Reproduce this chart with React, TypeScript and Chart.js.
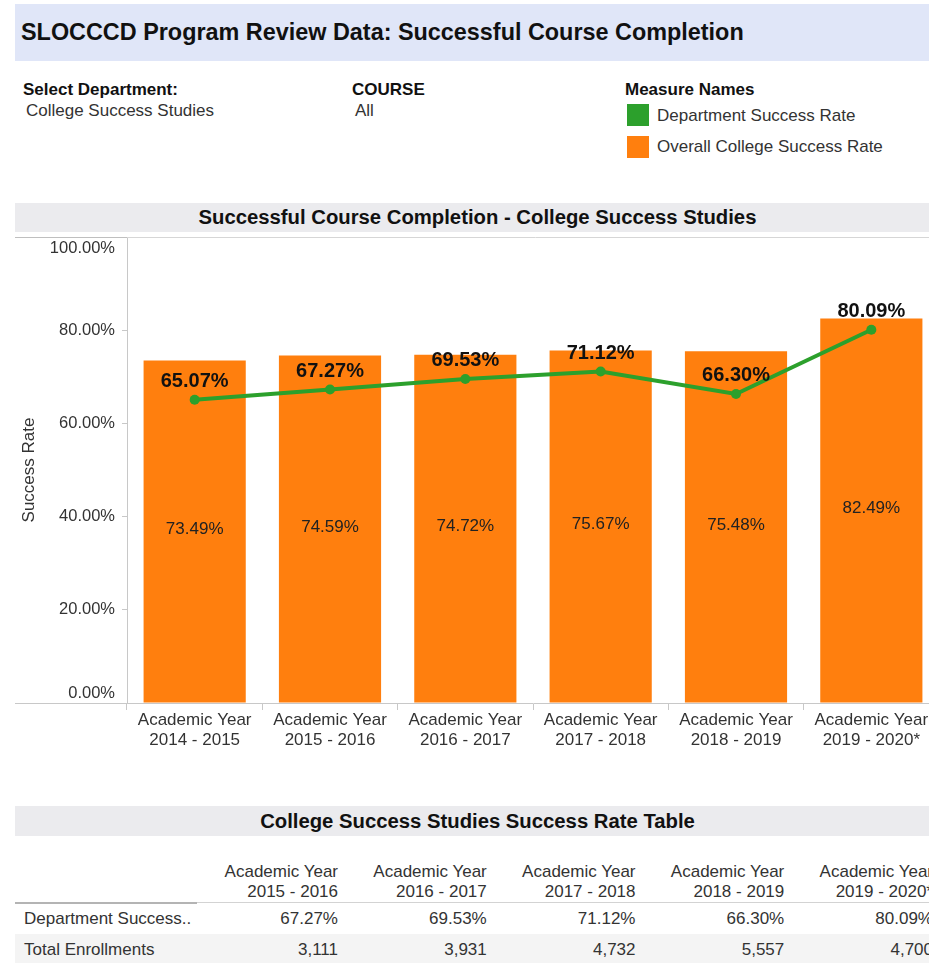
import React, { useEffect, useRef } from "react";
import { Chart, registerables } from "chart.js";

Chart.register(...registerables);

// ---------- data ----------
const categories: string[][] = [
  ["Academic Year", "2014 - 2015"],
  ["Academic Year", "2015 - 2016"],
  ["Academic Year", "2016 - 2017"],
  ["Academic Year", "2017 - 2018"],
  ["Academic Year", "2018 - 2019"],
  ["Academic Year", "2019 - 2020*"],
];
const departmentRate = [65.07, 67.27, 69.53, 71.12, 66.3, 80.09];
const collegeRate = [73.49, 74.59, 74.72, 75.67, 75.48, 82.49];
const yTickValues = [0, 20, 40, 60, 80, 100];

const tableYears: string[][] = [
  ["Academic Year", "2015 - 2016"],
  ["Academic Year", "2016 - 2017"],
  ["Academic Year", "2017 - 2018"],
  ["Academic Year", "2018 - 2019"],
  ["Academic Year", "2019 - 2020*"],
];
const tableDeptRate = [67.27, 69.53, 71.12, 66.3, 80.09];
const tableEnrollments = [3111, 3931, 4732, 5557, 4700];

const DEPT_COLOR = "#2ca02c";
const COLLEGE_COLOR = "#ff7f0e";
const FONT = '"Liberation Sans", Arial, Helvetica, sans-serif';

const pct = (v: number) => v.toFixed(2) + "%";

const overlayPlugin = {
  id: "overlay",
  beforeDatasetsDraw(chart: any) {
    const { ctx, chartArea } = chart;
    ctx.save();
    ctx.lineWidth = 1;
    // top frame line
    ctx.strokeStyle = "#bfbfbf";
    ctx.beginPath();
    ctx.moveTo(0, chartArea.top + 0.5);
    ctx.lineTo(chartArea.left, chartArea.top + 0.5);
    ctx.stroke();
    ctx.strokeStyle = "#d6d6d6";
    ctx.beginPath();
    ctx.moveTo(chartArea.left, chartArea.top + 0.5);
    ctx.lineTo(chart.width, chartArea.top + 0.5);
    ctx.stroke();
    // baseline extension under the y-axis labels
    ctx.strokeStyle = "#c8c8c8";
    ctx.beginPath();
    ctx.moveTo(0, chartArea.bottom + 0.5);
    ctx.lineTo(chartArea.left, chartArea.bottom + 0.5);
    ctx.stroke();
    ctx.restore();
  },
  afterDatasetsDraw(chart: any) {
    const { ctx } = chart;
    ctx.save();
    ctx.textAlign = "center";
    ctx.textBaseline = "middle";
    // bar labels (middle of bars)
    const barMeta = chart.getDatasetMeta(1);
    ctx.font = `17px ${FONT}`;
    ctx.fillStyle = "#222";
    barMeta.data.forEach((el: any, i: number) => {
      const y = (el.y + el.base) / 2 - 2;
      ctx.fillText(pct(collegeRate[i]), el.x, y);
    });
    // line labels (above points)
    const lineMeta = chart.getDatasetMeta(0);
    ctx.font = `bold 20px ${FONT}`;
    ctx.fillStyle = "#111";
    lineMeta.data.forEach((el: any, i: number) => {
      ctx.fillText(pct(departmentRate[i]), el.x, el.y - 18.5);
    });
    ctx.restore();
  },
  afterDraw(chart: any) {
    const { ctx, chartArea } = chart;
    const y = chart.scales.y;
    ctx.save();
    ctx.font = `16.5px ${FONT}`;
    ctx.fillStyle = "#333";
    ctx.textAlign = "right";
    ctx.textBaseline = "middle";
    yTickValues.forEach((v) => {
      let py = y.getPixelForValue(v);
      py = Math.max(chartArea.top + 11, Math.min(chartArea.bottom - 10, py));
      ctx.fillText(v.toFixed(2) + "%", chartArea.left - 12, py);
    });
    ctx.restore();
  },
};

function ComboChart() {
  const ref = useRef<HTMLCanvasElement | null>(null);
  useEffect(() => {
    if (!ref.current) return;
    const chart = new Chart(ref.current, {
      type: "bar",
      data: {
        labels: categories,
        datasets: [
          {
            type: "line",
            label: "Department Success Rate",
            data: departmentRate,
            borderColor: DEPT_COLOR,
            backgroundColor: DEPT_COLOR,
            borderWidth: 4,
            pointRadius: 5,
            pointBorderWidth: 0,
            pointBackgroundColor: DEPT_COLOR,
            tension: 0,
            order: 0,
          } as any,
          {
            type: "bar",
            label: "Overall College Success Rate",
            data: collegeRate,
            backgroundColor: COLLEGE_COLOR,
            borderWidth: 0,
            categoryPercentage: 1,
            barPercentage: 0.755,
            order: 1,
          },
        ],
      },
      options: {
        responsive: false,
        animation: false,
        layout: { padding: { top: 5, left: 0, right: 0, bottom: 0 } },
        plugins: {
          legend: { display: false },
          tooltip: { enabled: false },
        },
        scales: {
          x: {
            offset: true,
            grid: {
              display: true,
              drawOnChartArea: false,
              drawTicks: true,
              tickLength: 7,
              offset: true,
              color: "#c8c8c8",
            },
            border: { display: true, color: "#c8c8c8" },
            ticks: {
              font: { family: FONT, size: 17 },
              color: "#333",
              padding: 0,
              maxRotation: 0,
              minRotation: 0,
              autoSkip: false,
            },
            afterFit(scale: any) {
              scale.height = 60;
            },
          },
          y: {
            min: 0,
            max: 100,
            ticks: { stepSize: 20, display: false },
            grid: {
              display: true,
              drawOnChartArea: false,
              drawTicks: true,
              tickLength: 5,
              color: "#c8c8c8",
            },
            border: { display: true, color: "#c8c8c8" },
            title: {
              display: true,
              text: "Success Rate",
              font: { family: FONT, size: 17 },
              color: "#333",
              padding: 4,
            },
            afterFit(scale: any) {
              scale.width = 112;
            },
          },
        },
      },
      plugins: [overlayPlugin],
    });
    return () => chart.destroy();
  }, []);
  return (
    <canvas
      ref={ref}
      width={929}
      height={531}
      style={{ position: "absolute", left: 15, top: 232, width: 929, height: 531 }}
    />
  );
}

const abs = (s: React.CSSProperties): React.CSSProperties => ({ position: "absolute", ...s });

export default function App() {
  const colRight = (i: number) => 338 + i * 148.75;
  return (
    <div
      style={{
        position: "fixed",
        left: 0,
        top: 0,
        width: 929,
        height: 963,
        overflow: "hidden",
        background: "#fff",
        fontFamily: FONT,
        color: "#333",
      }}
    >
      {/* Dashboard title */}
      <div style={abs({ left: 15, top: 4, width: 930, height: 57, background: "#e0e6f8" })} />
      <div
        style={abs({
          left: 21,
          top: 4,
          height: 57,
          lineHeight: "57px",
          fontSize: 23.4,
          fontWeight: "bold",
          color: "#111",
          whiteSpace: "nowrap",
        })}
      >
        SLOCCCD Program Review Data: Successful Course Completion
      </div>

      {/* Filters */}
      <div style={abs({ left: 23, top: 80, lineHeight: "20px", fontSize: 17, fontWeight: "bold", color: "#111", whiteSpace: "nowrap" })}>
        Select Department:
      </div>
      <div style={abs({ left: 26, top: 101, lineHeight: "20px", fontSize: 17, whiteSpace: "nowrap" })}>
        College Success Studies
      </div>
      <div style={abs({ left: 352, top: 80, lineHeight: "20px", fontSize: 17, fontWeight: "bold", color: "#111", whiteSpace: "nowrap" })}>
        COURSE
      </div>
      <div style={abs({ left: 355, top: 101, lineHeight: "20px", fontSize: 17, whiteSpace: "nowrap" })}>All</div>

      {/* Legend */}
      <div style={abs({ left: 625, top: 80, lineHeight: "20px", fontSize: 17, fontWeight: "bold", color: "#111", whiteSpace: "nowrap" })}>
        Measure Names
      </div>
      <div style={abs({ left: 627, top: 104, width: 22, height: 22, background: DEPT_COLOR })} />
      <div style={abs({ left: 657, top: 105, lineHeight: "22px", fontSize: 17, whiteSpace: "nowrap" })}>
        Department Success Rate
      </div>
      <div style={abs({ left: 627, top: 136, width: 22, height: 22, background: COLLEGE_COLOR })} />
      <div style={abs({ left: 657, top: 136, lineHeight: "22px", fontSize: 17, whiteSpace: "nowrap" })}>
        Overall College Success Rate
      </div>

      {/* Chart title band */}
      <div
        style={abs({
          left: 15,
          top: 203,
          width: 925,
          height: 29,
          lineHeight: "29px",
          background: "#ebebee",
          textAlign: "center",
          fontSize: 20.3,
          fontWeight: "bold",
          color: "#111",
          whiteSpace: "nowrap",
        })}
      >
        Successful Course Completion - College Success Studies
      </div>

      <ComboChart />

      {/* Table title band */}
      <div
        style={abs({
          left: 15,
          top: 806,
          width: 925,
          height: 30,
          lineHeight: "30px",
          background: "#ebebee",
          textAlign: "center",
          fontSize: 20.3,
          fontWeight: "bold",
          color: "#111",
          whiteSpace: "nowrap",
        })}
      >
        College Success Studies Success Rate Table
      </div>

      {/* Table header */}
      {tableYears.map((lines, i) => (
        <div
          key={"h" + i}
          style={abs({
            left: colRight(i) - 148,
            top: 862,
            width: 148,
            textAlign: "right",
            lineHeight: "20px",
            fontSize: 17,
            whiteSpace: "nowrap",
          })}
        >
          {lines[0]}
          <br />
          {lines[1]}
        </div>
      ))}
      <div style={abs({ left: 15, top: 902, width: 925, height: 1, background: "#d3d3d3" })} />
      <div style={abs({ left: 15, top: 902, width: 182, height: 2, background: "#b4b4b4" })} />

      {/* Row 1 */}
      <div style={abs({ left: 24, top: 909, lineHeight: "20px", fontSize: 17, whiteSpace: "nowrap" })}>
        Department Success..
      </div>
      {tableDeptRate.map((v, i) => (
        <div
          key={"r1" + i}
          style={abs({ left: colRight(i) - 148, top: 909, width: 148, textAlign: "right", lineHeight: "20px", fontSize: 17 })}
        >
          {pct(v)}
        </div>
      ))}

      {/* Row 2 */}
      <div style={abs({ left: 15, top: 934, width: 925, height: 30, background: "#f4f4f4" })} />
      <div style={abs({ left: 24, top: 939.5, lineHeight: "20px", fontSize: 17, whiteSpace: "nowrap" })}>
        Total Enrollments
      </div>
      {tableEnrollments.map((v, i) => (
        <div
          key={"r2" + i}
          style={abs({ left: colRight(i) - 148, top: 939.5, width: 148, textAlign: "right", lineHeight: "20px", fontSize: 17 })}
        >
          {v.toLocaleString("en-US")}
        </div>
      ))}
    </div>
  );
}
